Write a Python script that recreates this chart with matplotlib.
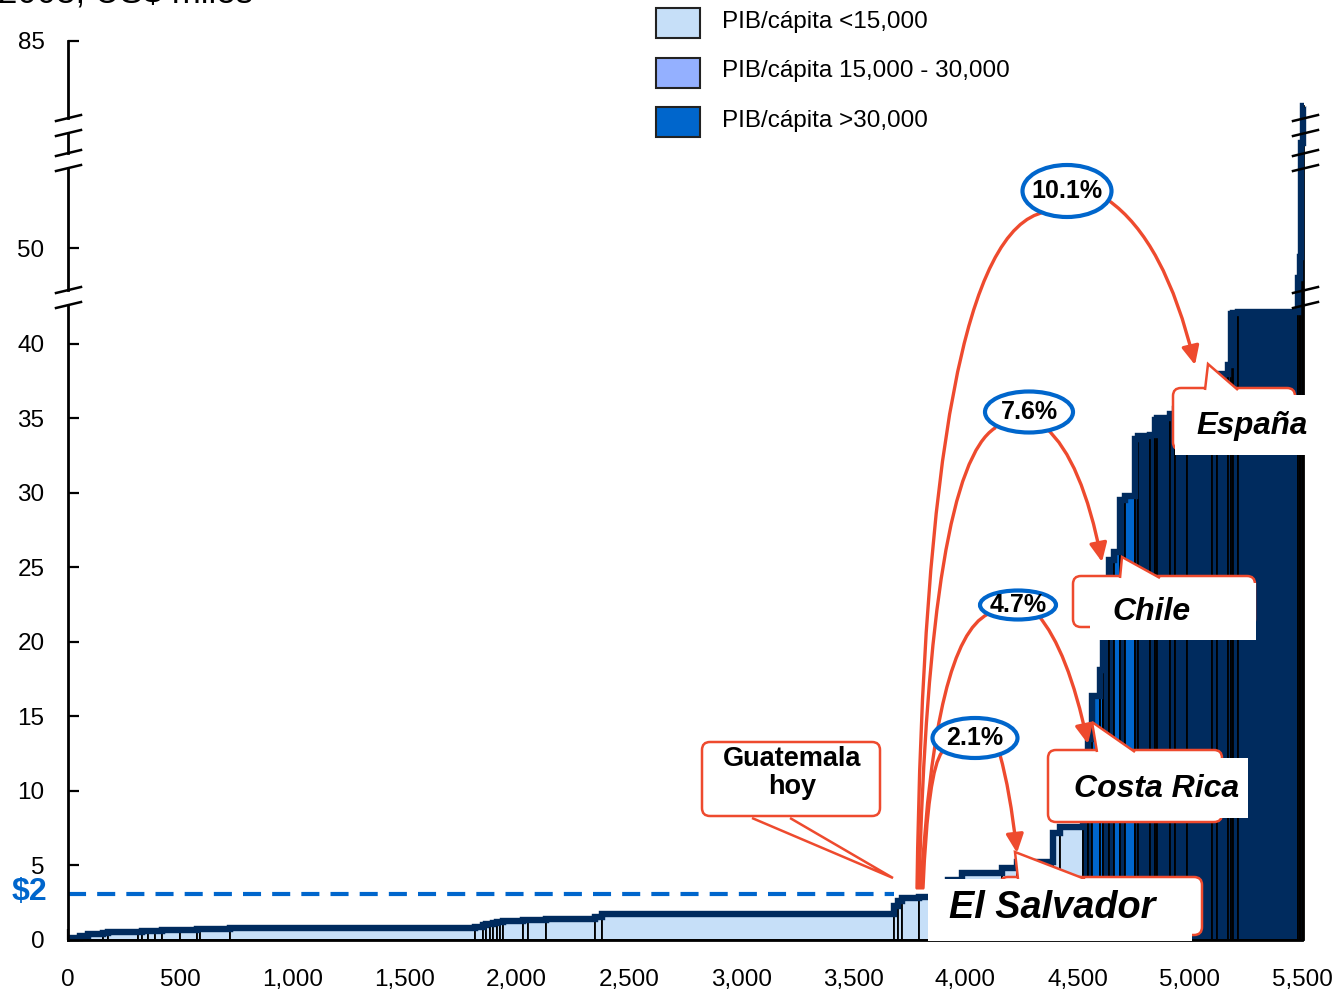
import numpy as np
import matplotlib
matplotlib.use("Agg")
import matplotlib.pyplot as plt
from matplotlib.patches import Rectangle, FancyBboxPatch, Ellipse, Polygon, FancyArrowPatch
from matplotlib.path import Path
from matplotlib.transforms import Affine2D, blended_transform_factory

plt.rcParams['font.family'] = ['Liberation Sans', 'DejaVu Sans']
plt.rcParams['lines.scale_dashes'] = False

# ---------------- data ----------------
# population (millions) of each country, sorted by GDP per capita
poblacion = [55, 35, 65, 25, 132, 18, 27, 31, 31, 81, 75, 15, 130, 1095,
             35, 13, 17, 15, 15, 15, 15, 90, 20, 80, 220, 30, 1300,
             20, 17, 76, 57, 70, 65, 178, 67, 160, 30, 105,
             20, 20, 35, 15, 25, 20, 30, 20, 45, 15, 52, 23, 9, 58, 22, 54, 112,
             21, 49, 15, 8, 22, 267, 8, 7, 6, 7]
# GDP per capita (US$ thousands)
pib = [0.12, 0.3, 0.42, 0.5, 0.52, 0.55, 0.58, 0.6, 0.63, 0.65, 0.68, 0.72, 0.74, 0.78,
       0.9, 1.0, 1.05, 1.1, 1.15, 1.2, 1.22, 1.28, 1.33, 1.35, 1.38, 1.55, 1.75,
       2.3, 2.6, 2.85, 2.9, 3.3, 4.0, 4.5, 4.8, 5.2, 7.2, 7.6,
       12.0, 13.5, 16.4, 18.1, 22.0, 25.5, 26.0, 29.5, 29.8, 33.6, 33.8, 33.9, 34.9, 35.0, 35.3, 35.6, 36.5,
       37.5, 38.0, 38.6, 42.0, 42.05, 42.1, 48.0, 49.4, 60.7, 80.6]
# colour group of each bar (0 light, 1 blue, 2 navy)
grupo = [0] * 38 + [2, 2, 1, 1, 2, 2, 1, 2, 1] + [2] * 18

x_ticks = list(range(0, 5501, 500))
x_labels = ["{:,}".format(v) for v in x_ticks]
y_ticks = [0, 5, 10, 15, 20, 25, 30, 35, 40, 50, 85]
y_labels = [str(v) for v in y_ticks]
nivel_guatemala = 3.1
fin_guatemala = 3680

leyenda = ["PIB/cápita <15,000", "PIB/cápita 15,000 - 30,000", "PIB/cápita >30,000"]
leyenda_col = ["#C6DFF8", "#94B0FF", "#0066CC"]
paleta = {0: "#C6DFF8", 1: "#0066CC", 2: "#002B5E"}
navy = "#002B5E"
red = "#EE4A2E"
blue = "#0066CC"

# ---------------- broken y scale ----------------
KV = [-1000, 0, 42.6, 47.2, 55.4, 60, 61.34, 79.8, 85, 1000]
KH = [-14900, 0, 635, 650, 772, 787, 807, 822, 899.5, 899.5 + 915 * 14.9]
def fwd(v):
    return np.interp(v, KV, KH)
def inv(h):
    return np.interp(h, KH, KV)
segments = [(0, 42.6), (47.2, 55.4), (60, 61.34), (79.8, 85)]
gap_edges = [42.6, 47.2, 55.4, 60, 61.34, 79.8]

W, H = 1334, 990
fig = plt.figure(figsize=(W / 100, H / 100), dpi=100)
ax = fig.add_axes([68 / W, 50 / H, (1302 - 68) / W, 899.5 / H])
ax.set_yscale('function', functions=(fwd, inv))
ax.set_xlim(0, 5500)
ax.set_ylim(0, 85)

T = Affine2D().scale(1 / W, -1 / H).translate(0, 1) + fig.transFigure

edges = np.concatenate([[0], np.cumsum(poblacion)])
colors = [paleta[g] for g in grupo]
ax.bar(edges[:-1], pib, width=poblacion, align='edge', color=colors,
       edgecolor='black', linewidth=1.3, clip_on=False, zorder=2)
ax.stairs(pib, edges, baseline=None, color=navy, lw=4.6, zorder=3, clip_on=False)

ax.plot([0, fin_guatemala], [nivel_guatemala, nivel_guatemala], color=blue, lw=3,
        dashes=(13, 8), zorder=3)

# spines
for s in ['left', 'top', 'right']:
    ax.spines[s].set_visible(False)
ax.spines['bottom'].set_linewidth(2)
ax.spines['bottom'].set_zorder(4)
bt = blended_transform_factory(ax.transAxes, ax.transData)
for a, b in segments:
    ax.plot([0, 0], [a, b], color='black', lw=2, transform=bt, clip_on=False, zorder=4)
for v in gap_edges:
    ypx = 940 - fwd(v)
    for xc in (68, 1305):
        ax.plot([xc - 12, xc + 13], [ypx + 3, ypx - 3], color='black', lw=1.8,
                transform=T, clip_on=False, zorder=6)

ax.set_xticks(x_ticks)
ax.set_xticklabels(x_labels)
ax.set_yticks(y_ticks)
ax.set_yticklabels(y_labels)
ax.yaxis.set_minor_locator(matplotlib.ticker.NullLocator())
ax.tick_params(axis='both', direction='in', length=8, width=1.6, labelsize=17.5, color='black')
ax.tick_params(axis='x', pad=21)
ax.tick_params(axis='y', pad=17)

# texts
ax.text(-2, 4, "2008, US\\$ miles", transform=T, fontsize=25, va='baseline', ha='left')
ax.text(29, 892, "\\$2", transform=T, fontsize=23, fontweight='bold', color=blue,
        ha='center', va='center', clip_on=False)

# legend
for i, (lab, col) in enumerate(zip(leyenda, leyenda_col)):
    y0 = 8 + i * 49.5
    ax.add_patch(Rectangle((656, y0), 44, 30, transform=T, facecolor=col,
                           edgecolor='#222222', lw=1.5, clip_on=False, zorder=10))
    ax.text(722, y0 + 14, lab, transform=T, fontsize=17.5, va='center', ha='left')

def rbox(x0, y0, x1, y1):
    ax.add_patch(FancyBboxPatch((x0, y0), x1 - x0, y1 - y0, boxstyle="round,pad=0,rounding_size=8",
                                transform=T, facecolor='white', edgecolor=red, lw=1.8,
                                clip_on=False, zorder=10))

def tail(b1, tip, b2, top):
    ax.add_patch(Polygon([(b1, top + 2), tip, (b2, top + 2)], closed=False, transform=T,
                         facecolor='white', edgecolor=red, lw=1.8, clip_on=False, zorder=11))

def wrect(x0, y0, x1, y1):
    ax.add_patch(Rectangle((x0, y0), x1 - x0, y1 - y0, transform=T, facecolor='white',
                           edgecolor='none', clip_on=False, zorder=12))

# Guatemala
rbox(702, 742, 880, 816)
tail(752, (893, 878), 790, 816)
ax.text(792, 773, "Guatemala\nhoy", transform=T, fontsize=19.5, fontweight='bold',
        ha='center', va='center', linespacing=1.12, zorder=13)

# El Salvador
rbox(1000, 877, 1202, 935)
tail(1018, (1015, 852), 1085, 877)
wrect(928, 879, 1192, 941)
ax.text(1052, 908, "El Salvador", transform=T, fontsize=27.3, fontweight='bold',
        fontstyle='italic', ha='center', va='center', zorder=13)

# Costa Rica
rbox(1048, 750, 1222, 822)
tail(1097, (1092, 722), 1135, 750)
wrect(1060, 758, 1248, 818)
ax.text(1157, 789, "Costa Rica", transform=T, fontsize=23, fontweight='bold',
        fontstyle='italic', ha='center', va='center', zorder=13)

# Chile
rbox(1073, 576, 1255, 627)
tail(1120, (1122, 557), 1160, 576)
wrect(1090, 583, 1256, 640)
ax.text(1151, 612, "Chile", transform=T, fontsize=23, fontweight='bold',
        fontstyle='italic', ha='center', va='center', zorder=13)

# España
rbox(1173, 388, 1295, 450)
tail(1205, (1208, 364), 1238, 388)
wrect(1175, 395, 1308, 455)
ax.text(1252, 426, "España", transform=T, fontsize=22.5, fontweight='bold',
        fontstyle='italic', ha='center', va='center', zorder=13)

# arcs
def quad(p0, c, p2, arrow):
    path = Path([p0, c, p2], [Path.MOVETO, Path.CURVE3, Path.CURVE3])
    style = '-|>,head_length=0.75,head_width=0.35' if arrow else '-'
    ax.add_patch(FancyArrowPatch(path=path, arrowstyle=style, mutation_scale=15,
                                 transform=T, color=red, lw=2.4, clip_on=False, zorder=14))

quad((917, 888), (926, 235), (1045, 212), False)
quad((919, 888), (930, 470), (995, 428), False)
quad((921, 888), (935, 640), (988, 614), False)
quad((923, 888), (928, 770), (942, 752), False)
quad((1108, 200), (1165, 240), (1195, 365), True)
quad((1046, 428), (1082, 460), (1102, 562), True)
quad((1038, 615), (1068, 650), (1088, 744), True)
quad((1000, 755), (1010, 790), (1017, 853), True)

# ellipses
for (cx, cy, w, h, t) in [(1067, 191, 89, 52, "10.1%"), (1029, 412, 88, 41, "7.6%"),
                          (1018, 605, 76, 29, "4.7%"), (975, 738, 85, 40, "2.1%")]:
    ax.add_patch(Ellipse((cx, cy), w, h, transform=T, facecolor='white', edgecolor=blue,
                         lw=3, clip_on=False, zorder=15))
    ax.text(cx, cy, t, transform=T, fontsize=18, fontweight='bold', ha='center',
            va='center', zorder=16)

fig.savefig("out.png", dpi=100)
